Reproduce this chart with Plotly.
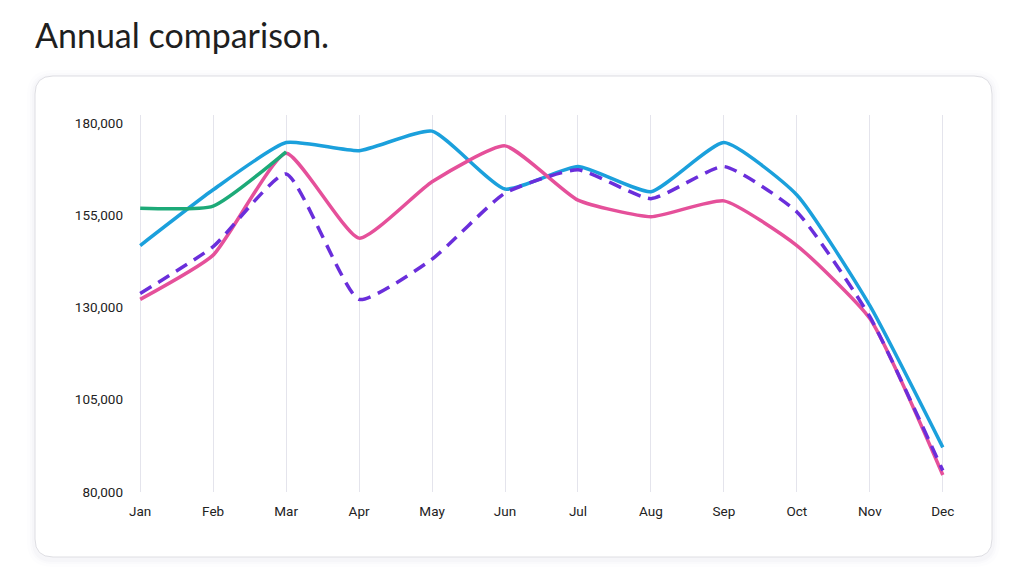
import plotly.graph_objects as go

months = ["Jan", "Feb", "Mar", "Apr", "May", "Jun", "Jul", "Aug", "Sep", "Oct", "Nov", "Dec"]
blue_vals = [146800, 161900, 174700, 172500, 177800, 162100, 168200, 161400, 174700, 160500, 130500, 92100]
pink_vals = [132200, 144200, 171800, 148800, 164100, 173800, 159100, 154600, 158900, 146800, 127000, 84600]
purple_vals = [133800, 146500, 166200, 132200, 143100, 161000, 167300, 159500, 168200, 155900, 127500, 85800]
green_vals = [156900, 157500, 172200]
y_ticks = [80000, 105000, 130000, 155000, 180000]

W, H = 1024, 570
OFF = 8  # page body margin
# target plot area in window pixels
PL, PR, PT, PB = 138, 945, 115, 492
L, R, T, B = PL - OFF, W - (PR - OFF), PT - OFF, H - (PB - OFF)
pw, ph = W - L - R, H - T - B

def px(x):
    return (x - OFF - L) / pw

def py(y):
    return 1 - (y - OFF - T) / ph

fig = go.Figure()

series = [
    (blue_vals, "#1ba0dc", "solid"),
    (pink_vals, "#e5509a", "solid"),
    (purple_vals, "#6a2edb", "13px,8px"),
    (green_vals, "#1daa78", "solid"),
]
for vals, col, dash in series:
    fig.add_trace(go.Scatter(
        x=months[:len(vals)], y=vals, mode="lines",
        line=dict(color=col, width=3.5, dash=dash, shape="spline", smoothing=0.5),
        hoverinfo="skip", showlegend=False,
    ))

x0, x1, y0, y1 = 35, 992, 76, 557
r = 18
def card_path(x0, x1, y0, y1, r):
    rx = r / pw
    ry = r / ph
    X0, X1, Y0, Y1 = px(x0), px(x1), py(y1), py(y0)
    return (f"M {X0+rx},{Y1} L {X1-rx},{Y1} Q {X1},{Y1} {X1},{Y1-ry} "
            f"L {X1},{Y0+ry} Q {X1},{Y0} {X1-rx},{Y0} L {X0+rx},{Y0} "
            f"Q {X0},{Y0} {X0},{Y0+ry} L {X0},{Y1-ry} Q {X0},{Y1} {X0+rx},{Y1} Z")

shapes = []
for pad, op in [(8, 0.015), (5, 0.02), (3, 0.03)]:
    shapes.append(dict(type="path", xref="paper", yref="paper", layer="below",
                       path=card_path(x0 - pad, x1 + pad, y0 - pad + 2, y1 + pad + 2, r + pad),
                       fillcolor=f"rgba(120,120,160,{op})", line=dict(width=0)))
shapes.append(dict(type="path", xref="paper", yref="paper", layer="below",
                   path=card_path(x0, x1, y0, y1, r),
                   fillcolor="#ffffff", line=dict(color="#dedee3", width=1)))

fig.update_layout(
    width=W, height=H,
    margin=dict(l=L, r=R, t=T, b=B),
    paper_bgcolor="#ffffff", plot_bgcolor="rgba(0,0,0,0)",
    shapes=shapes,
    font=dict(family="Roboto, Inter, sans-serif", color="#222222", size=13),
    annotations=[dict(text="Annual comparison.", xref="paper", yref="paper",
                      x=px(33), y=py(35), xanchor="left", yanchor="middle",
                      showarrow=False,
                      font=dict(family="Lato, Inter, sans-serif", size=34, color="#1f1f1f"))],
    xaxis=dict(type="category", range=[-0.03, 11.03], showgrid=True, gridcolor="#e4e4ec",
               gridwidth=1, zeroline=False, showline=False, ticks="",
               tickfont=dict(size=13.5, color="#222222"), ticklabelstandoff=9, fixedrange=True),
    yaxis=dict(range=[80000, 182170], tickvals=y_ticks, tickformat=",", showgrid=False,
               zeroline=False, showline=False, ticks="",
               tickfont=dict(size=13.5, color="#222222"), ticklabelstandoff=14, fixedrange=True),
)

fig.write_html("out.html", config={"displayModeBar": False})
